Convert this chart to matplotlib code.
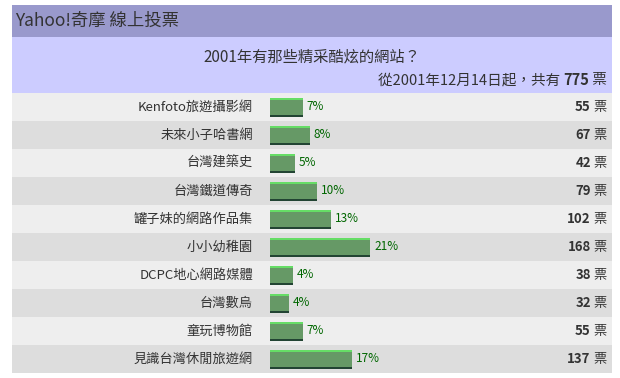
import matplotlib
matplotlib.use("Agg")
import matplotlib.pyplot as plt

plt.rcParams["font.family"] = ["Noto Sans CJK TC", "DejaVu Sans"]

sites = ["Kenfoto旅遊攝影網", "未來小子哈書網", "台灣建築史", "台灣鐵道傳奇",
         "罐子妹的網路作品集", "小小幼稚園", "DCPC地心網路媒體", "台灣數烏",
         "童玩博物館", "見識台灣休閒旅遊網"]
votes = [55, 67, 42, 79, 102, 168, 38, 32, 55, 137]
pct_labels = ["7%", "8%", "5%", "10%", "13%", "21%", "4%", "4%", "7%", "17%"]
total_votes = 775
header = "Yahoo!奇摩 線上投票"
question = "2001年有那些精采酷炫的網站？"
since = "從2001年12月14日起，共有 "

W, H = 620, 378
fig = plt.figure(figsize=(W / 100, H / 100), dpi=100)
ax = fig.add_axes([0, 0, 1, 1])
ax.set_xlim(0, W)
ax.set_ylim(H, 0)
ax.axis("off")

X0, X1 = 12, 612
ROW0, ROWH = 93, 28
BAR_X = 270
PX_PER_VOTE = 100 / 168  # 168 votes -> 100 px

# header bands
ax.add_patch(plt.Rectangle((X0, 5), X1 - X0, 32, color="#9999cc", lw=0))
ax.add_patch(plt.Rectangle((X0, 37), X1 - X0, ROW0 - 37, color="#ccccff", lw=0))
ax.text(X0 + 3, 21, header, fontsize=12.5, color="#333333", va="center")
ax.text((X0 + X1) / 2, 57, question, fontsize=11, color="#333333",
        va="center", ha="center")

fig.canvas.draw()
r = fig.canvas.get_renderer()
inv = ax.transData.inverted()


def chain_right(x, y, parts, size=9):
    """Right-aligned run of (text, weight) pieces ending at x."""
    for s, w in reversed(parts):
        t = ax.text(x, y, s, fontsize=size, color="#333333", ha="right",
                    va="center", fontweight=w)
        bb = t.get_window_extent(r)
        x = inv.transform((bb.x0, 0))[0]


chain_right(607, 80, [(since, "normal"), (str(total_votes), "bold"), (" 票", "normal")],
            size=10.5)

centers = [ROW0 + ROWH * i + ROWH / 2 for i in range(len(sites))]
for i, yc in enumerate(centers):
    ax.add_patch(plt.Rectangle((X0, yc - ROWH / 2), X1 - X0, ROWH,
                               color="#eeeeee" if i % 2 == 0 else "#dddddd", lw=0))

widths = [v * PX_PER_VOTE for v in votes]
ax.barh(centers, widths, left=BAR_X, height=19, color="#669966", lw=0)
ax.barh([c - 8.5 for c in centers], widths, left=BAR_X, height=2, color="#66dd66", lw=0)
ax.barh([c + 8.5 for c in centers], widths, left=BAR_X, height=2, color="#224433", lw=0)

for yc, s, w, p, v in zip(centers, sites, widths, pct_labels, votes):
    ax.text(253, yc, s, fontsize=9.5, color="#333333", ha="right", va="center")
    ax.text(BAR_X + w + 4, yc, p, fontsize=8.5, color="#006600", va="center")
    chain_right(607, yc, [(str(v), "bold"), (" 票", "normal")], size=9.5)

fig.savefig("out.png", dpi=100, facecolor="white")
